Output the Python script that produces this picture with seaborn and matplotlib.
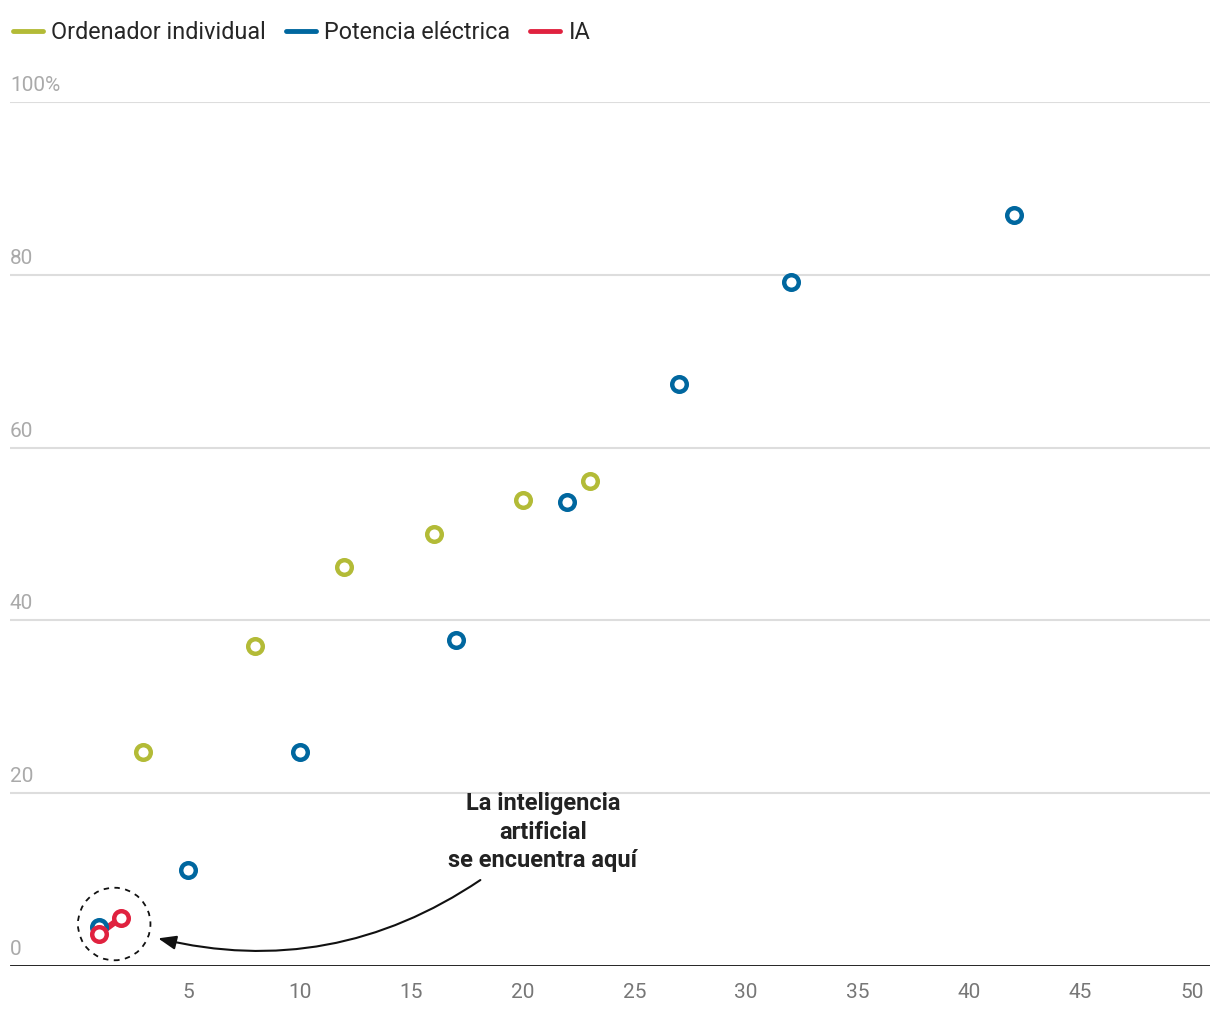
import matplotlib.pyplot as plt
import seaborn as sns
import pandas as pd
from matplotlib.patches import Ellipse

# datos
ordenador_x = [3, 8, 12, 16, 20, 23]
ordenador_y = [24.8, 37.0, 46.2, 50.0, 53.9, 56.1]

potencia_x = [1, 5, 10, 17, 22, 27, 32, 42]
potencia_y = [4.5, 11.1, 24.8, 37.7, 53.7, 67.4, 79.2, 86.9]

ia_x = [1, 2]
ia_y = [3.7, 5.6]

series = ["Ordenador individual", "Potencia eléctrica", "IA"]
colores = ["#b3bb37", "#00679f", "#e0223f"]

x_ticks = [5, 10, 15, 20, 25, 30, 35, 40, 45, 50]
y_ticks = [0, 20, 40, 60, 80, 100]
y_labels = ["0", "20", "40", "60", "80", "100%"]

df = pd.concat([
    pd.DataFrame({"x": ordenador_x, "y": ordenador_y, "serie": series[0]}),
    pd.DataFrame({"x": potencia_x, "y": potencia_y, "serie": series[1]}),
    pd.DataFrame({"x": ia_x, "y": ia_y, "serie": series[2]}),
])

sns.set_theme(style="white")
plt.rcParams['font.family'] = ['Roboto', 'DejaVu Sans']

fig = plt.figure(figsize=(12.2, 10.16), dpi=100)
ax = fig.add_axes([10 / 1220, 50 / 1016, 1200 / 1220, 864 / 1016])

# lineas de referencia
for yv in y_ticks[1:]:
    ax.axhline(yv, color="#dddddd", lw=1.5, zorder=0)
ax.axhline(0, color="#111111", lw=2, zorder=1)

# linea de IA
sns.lineplot(data=df[df.serie == "IA"], x="x", y="y", color=colores[2],
             lw=4.5, ax=ax, legend=False, zorder=3)

for s, c in zip(series, colores):
    sub = df[df.serie == s]
    ax.plot(sub.x, sub.y, ls="none", marker="o", markersize=10.5,
            markerfacecolor="white", markeredgecolor=c, markeredgewidth=3.2,
            zorder=4)

# leyenda con lineas
handles = [plt.Line2D([], [], color=c, lw=3.5) for c in colores]
fig.legend(handles, series, loc="upper left", bbox_to_anchor=(-0.005, 0.998),
           ncol=3, frameon=False, fontsize=16.8, handlelength=1.3,
           handletextpad=0.35, columnspacing=0.85, borderaxespad=0.5,
           borderpad=0.3)

ax.set_xlim(-2.98, 50.8)
ax.set_ylim(0, 100)
ax.set_xticks(x_ticks)
ax.set_xticklabels([str(t) for t in x_ticks], color="#777777", fontsize=15)
ax.tick_params(axis="x", length=0, pad=12)
ax.set_yticks([])
ax.set_xlabel("")
ax.set_ylabel("")
for sp in ax.spines.values():
    sp.set_visible(False)

for yv, lab in zip(y_ticks, y_labels):
    ax.annotate(lab, xy=(0, yv), xycoords=("axes fraction", "data"),
                xytext=(0, 5), textcoords="offset points",
                ha="left", va="bottom", color="#aaaaaa", fontsize=15)

# circulo discontinuo y anotacion
ax.add_patch(Ellipse((1.69, 4.86), 3.25, 8.4, fill=False, ls=(0, (3, 3)),
                     lw=1.3, ec="#111111", zorder=2))
ax.text(20.9, 20.15, "La inteligencia\nartificial\nse encuentra aquí",
        ha="center", va="top", fontsize=17, fontweight="bold",
        color="#222222", linespacing=1.32)
ax.annotate("", xy=(3.66, 3.2), xytext=(18.1, 9.95),
            arrowprops=dict(arrowstyle="-|>,head_length=0.9,head_width=0.35",
                            color="#111111", lw=1.5,
                            connectionstyle="arc3,rad=-0.22",
                            shrinkA=0, shrinkB=0))

fig.savefig("out.png", dpi=100)
